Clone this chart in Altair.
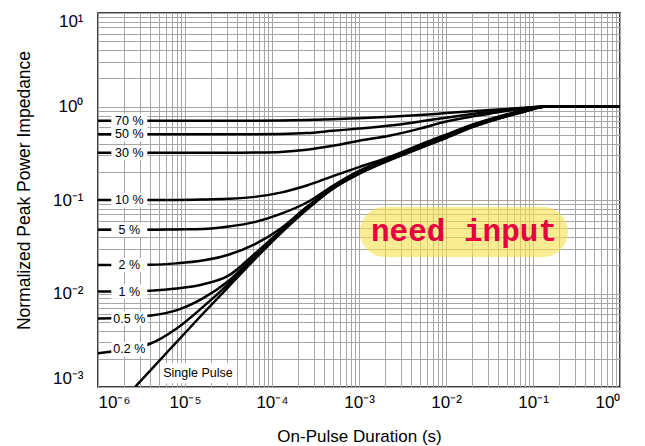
import altair as alt
import pandas as pd

# ---- data (log10 of on-pulse duration, normalized impedance) ----
exps = [-6.0, -5.7, -5.4, -5.1, -4.8, -4.5, -4.2, -3.9, -3.6, -3.3, -3.0,
        -2.64, -2.3, -2.0, -1.7, -1.4, -1.1, -0.85, 0.0]

duty_names = ["70 %", "50 %", "30 %", "10 %", "5 %", "2 %", "1 %", "0.5 %", "0.2 %"]
z70 = [0.705, 0.705, 0.705, 0.705, 0.705, 0.705, 0.705, 0.708, 0.715, 0.73, 0.75,
       0.775, 0.81, 0.85, 0.89, 0.93, 0.97, 1.0, 1.0]
z50 = [0.505, 0.505, 0.505, 0.505, 0.505, 0.505, 0.505, 0.508, 0.52, 0.55, 0.58,
       0.625, 0.69, 0.76, 0.83, 0.90, 0.96, 1.0, 1.0]
z30 = [0.32, 0.32, 0.32, 0.32, 0.32, 0.32, 0.322, 0.327, 0.345, 0.38, 0.43,
       0.49, 0.58, 0.69, 0.78, 0.87, 0.95, 1.0, 1.0]
z10 = [0.1, 0.1, 0.1, 0.1, 0.101, 0.103, 0.108, 0.12, 0.143, 0.18, 0.225,
       0.29, 0.39, 0.5, 0.64, 0.78, 0.91, 1.0, 1.0]
z5 = [0.048, 0.048, 0.048, 0.0485, 0.049, 0.052, 0.058, 0.071, 0.094, 0.142, 0.205,
      0.284, 0.38, 0.49, 0.63, 0.77, 0.905, 1.0, 1.0]
z2 = [0.0202, 0.0202, 0.0203, 0.021, 0.0225, 0.026, 0.0335, 0.0495, 0.0845, 0.137, 0.2,
      0.28, 0.375, 0.48, 0.62, 0.76, 0.90, 1.0, 1.0]
z1 = [0.0105, 0.0105, 0.0107, 0.0113, 0.0125, 0.0155, 0.0265, 0.047, 0.082, 0.135, 0.197,
      0.277, 0.37, 0.475, 0.615, 0.755, 0.895, 1.0, 1.0]
z05 = [0.0054, 0.0055, 0.0058, 0.0066, 0.0088, 0.0136, 0.025, 0.0458, 0.0808, 0.1338, 0.194,
       0.274, 0.366, 0.47, 0.61, 0.75, 0.89, 1.0, 1.0]
z02 = [0.0023, 0.0025, 0.0029, 0.0042, 0.0071, 0.0127, 0.024, 0.0448, 0.0798, 0.1328, 0.192,
       0.271, 0.362, 0.465, 0.605, 0.745, 0.885, 1.0, 1.0]

single_exps = [-5.575, -5.4, -5.1, -4.8, -4.5, -4.2, -3.9, -3.6, -3.3, -3.0,
               -2.64, -2.3, -2.0, -1.7, -1.4, -1.1, -0.85, 0.0]
single_z = [0.001, 0.0015, 0.003, 0.006, 0.0118, 0.0232, 0.044, 0.079, 0.132, 0.19,
            0.268, 0.358, 0.46, 0.60, 0.74, 0.88, 1.0, 1.0]

# label placement (log10 duration) and level of each duty-cycle label
label_exp = -5.64
label_levels = [0.705, 0.505, 0.32, 0.1, 0.048, 0.0202, 0.0105, 0.0054, 0.00253]
single_label = "Single Pulse"
single_label_exp = -4.851
single_label_level = 0.00141

# placeholder note
note_text = "need input"
note_center = (-1.793, -1.342)
note_box = (-2.989, -0.598, -1.61, -1.075)

# ---- build tables ----
rows = []
for name, vals in zip(duty_names, [z70, z50, z30, z10, z5, z2, z1, z05, z02]):
    for e, z in zip(exps, vals):
        rows.append({"curve": name, "t": 10 ** e, "z": z, "o": e})
for e, z in zip(single_exps, single_z):
    rows.append({"curve": single_label, "t": 10 ** e, "z": z, "o": e})
df = pd.DataFrame(rows)

labels_df = pd.DataFrame({"label": duty_names,
                          "t": [10 ** label_exp] * len(duty_names),
                          "z": label_levels})
single_df = pd.DataFrame({"label": [single_label], "t": [10 ** single_label_exp],
                          "z": [single_label_level]})
note_df = pd.DataFrame({"label": [note_text], "t": [10 ** note_center[0]],
                        "z": [10 ** note_center[1]],
                        "t1": [10 ** note_box[0]], "t2": [10 ** note_box[1]],
                        "z1": [10 ** note_box[2]], "z2": [10 ** note_box[3]]})

x_grid = [k * 10.0 ** e for e in range(-6, 0) for k in range(1, 10)] + [1.0]
y_grid = [k * 10.0 ** e for e in range(-3, 1) for k in range(1, 10)] + [10.0]

sup = "['⁻⁶','⁻⁵','⁻⁴','⁻³','⁻²','⁻¹','⁰','¹']"
lab_expr = ("abs(log(datum.value)/LN10 - round(log(datum.value)/LN10)) < 0.001 ? "
            "'10' + " + sup + "[round(log(datum.value)/LN10) + 6] : ''")

FONT = "Liberation Sans"

x_scale = alt.Scale(type="log", domain=[1e-6, 1], nice=False)
y_scale = alt.Scale(type="log", domain=[1e-3, 10], nice=False)

x_enc = alt.X("t:Q", scale=x_scale, axis=alt.Axis(
    values=x_grid, labelExpr=lab_expr, labelOverlap=False, labelFlush=True,
    ticks=False, domain=False, grid=True, gridColor="#a6a6a6", gridWidth=1,
    labelFont=FONT, labelFontSize=17, labelColor="black", labelPadding=7,
    title="On-Pulse Duration (s)", titleFont=FONT, titleFontSize=17,
    titleFontWeight="normal", titleColor="black", titleY=54,
    titleBaseline="alphabetic"))
y_enc = alt.Y("z:Q", scale=y_scale, axis=alt.Axis(
    values=y_grid, labelExpr=lab_expr, labelOverlap=False, labelFlush=True,
    ticks=False, domain=False, grid=True, gridColor="#a6a6a6", gridWidth=1,
    labelFont=FONT, labelFontSize=17, labelColor="black", labelPadding=15,
    title="Normalized Peak Power Impedance", titleFont=FONT, titleFontSize=17.5,
    titleFontWeight="normal", titleColor="black", titleX=-74, titleY=177,
    titleBaseline="middle", titleAlign="center", titleAngle=-90))

base_x = alt.X("t:Q", scale=x_scale)
base_y = alt.Y("z:Q", scale=y_scale)

lines = alt.Chart(df).mark_line(color="black", strokeWidth=2.5,
                                interpolate="monotone", clip=True).encode(
    x=x_enc, y=y_enc, detail="curve:N", order="o:Q")

box_shape = "M-1,-0.4L1,-0.4L1,0.4L-1,0.4Z"
label_boxes = alt.Chart(labels_df).mark_point(
    shape=box_shape, size=1300, filled=True, fill="white", opacity=1,
    strokeWidth=0).encode(x=base_x, y=base_y)
label_text = alt.Chart(labels_df).mark_text(
    font=FONT, fontSize=12.5, color="black", align="center",
    baseline="middle").encode(x=base_x, y=base_y, text="label:N")

single_box = alt.Chart(single_df).mark_point(
    shape="M-1,-0.28L1,-0.28L1,0.28L-1,0.28Z", size=5200, filled=True,
    fill="white", opacity=1, strokeWidth=0).encode(x=base_x, y=base_y)
single_text = alt.Chart(single_df).mark_text(
    font=FONT, fontSize=12.5, color="black", align="center",
    baseline="middle").encode(x=base_x, y=base_y, text="label:N")

note_rect = alt.Chart(note_df).mark_rect(
    fill="#f5e050", opacity=0.62, cornerRadius=25).encode(
    x=alt.X("t1:Q", scale=x_scale), x2="t2:Q",
    y=alt.Y("z1:Q", scale=y_scale), y2="z2:Q")
note_label = alt.Chart(note_df).mark_text(
    font="Liberation Mono", fontSize=31, fontWeight="bold", color="#e6003f",
    align="center", baseline="middle").encode(x=base_x, y=base_y, text="label:N")

chart = alt.layer(
    lines, label_boxes, label_text, single_box, single_text, note_rect, note_label
).properties(
    width=522, height=374,
    autosize=alt.AutoSizeParams(type="none"),
    padding={"left": 90, "top": 5, "right": 17, "bottom": 58},
).configure_view(stroke="black", strokeWidth=1.5)

chart.save("out.html", embed_options={"renderer": "svg", "actions": False})
